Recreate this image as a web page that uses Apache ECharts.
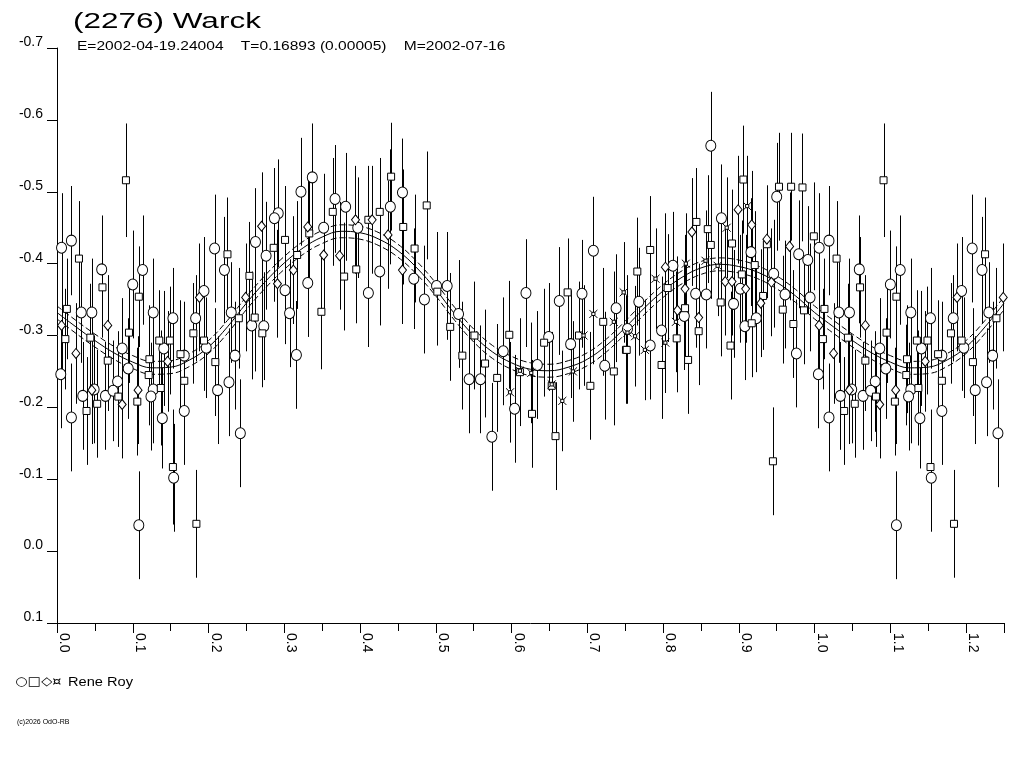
<!DOCTYPE html>
<html>
<head>
<meta charset="utf-8">
<script src="https://cdn.jsdelivr.net/npm/echarts@6/dist/echarts.min.js"></script>
<style>
html,body{margin:0;padding:0;background:#fff;}
#chart{width:1024px;height:768px;}
</style>
</head>
<body>
<div id="chart"></div>
<script>
// ---- Data (phase, reduced magnitude, error half-length) ----
const circles = [
[0.006,-0.422,0.076],[0.019,-0.432,0.076],[0.059,-0.392,0.075],[0.100,-0.371,0.075],[0.113,-0.391,0.076],
[0.208,-0.421,0.075],[0.221,-0.391,0.074],[0.032,-0.332,0.070],[0.046,-0.332,0.075],[0.127,-0.332,0.075],
[0.153,-0.324,0.070],[0.194,-0.362,0.075],[0.183,-0.324,0.060],[0.197,-0.283,0.070],[0.230,-0.332,0.070],
[0.005,-0.246,0.075],[0.086,-0.282,0.070],[0.094,-0.254,0.070],[0.141,-0.282,0.080],[0.168,-0.272,0.075],
[0.080,-0.236,0.070],[0.235,-0.272,0.075],[0.227,-0.235,0.075],[0.212,-0.224,0.075],[0.127,-0.225,0.075],
[0.034,-0.216,0.075],[0.049,-0.225,0.075],[0.064,-0.216,0.075],[0.074,-0.223,0.070],[0.124,-0.215,0.075],
[0.019,-0.186,0.075],[0.139,-0.185,0.070],[0.168,-0.195,0.075],[0.242,-0.164,0.075],[0.154,-0.102,0.075],
[0.108,-0.036,0.075],
[0.337,-0.520,0.075],[0.322,-0.500,0.075],[0.456,-0.499,0.075],[0.367,-0.490,0.075],[0.381,-0.479,0.075],
[0.440,-0.479,0.080],[0.292,-0.470,0.075],[0.287,-0.463,0.070],[0.352,-0.450,0.075],[0.397,-0.450,0.070],
[0.262,-0.430,0.075],[0.276,-0.411,0.075],[0.426,-0.389,0.075],[0.471,-0.379,0.070],[0.331,-0.373,0.075],
[0.301,-0.363,0.075],[0.411,-0.359,0.075],[0.485,-0.350,0.075],[0.501,-0.369,0.075],[0.307,-0.331,0.075],
[0.257,-0.314,0.075],[0.273,-0.313,0.075],[0.316,-0.273,0.075],
[0.708,-0.418,0.075],[0.515,-0.369,0.075],[0.619,-0.359,0.075],[0.693,-0.358,0.075],[0.663,-0.348,0.075],
[0.738,-0.338,0.075],[0.530,-0.330,0.075],[0.649,-0.298,0.075],[0.678,-0.288,0.075],[0.589,-0.278,0.075],
[0.634,-0.259,0.075],[0.723,-0.258,0.075],[0.544,-0.239,0.075],[0.559,-0.239,0.075],[0.604,-0.198,0.075],
[0.574,-0.159,0.075],
[0.863,-0.564,0.075],[0.950,-0.493,0.075],[0.877,-0.463,0.075],[0.979,-0.413,0.075],[0.991,-0.405,0.075],
[0.916,-0.416,0.075],[0.813,-0.397,0.075],[0.946,-0.386,0.075],[0.902,-0.365,0.075],[0.843,-0.358,0.075],
[0.857,-0.357,0.075],[0.961,-0.357,0.075],[0.768,-0.347,0.075],[0.893,-0.344,0.075],[0.994,-0.353,0.075],
[0.828,-0.327,0.075],[0.923,-0.324,0.075],[0.908,-0.313,0.075],[0.798,-0.307,0.075],[0.753,-0.309,0.075],
[0.783,-0.286,0.075],[0.976,-0.275,0.075]
];
const squares = [
[0.091,-0.516,0.079],[0.029,-0.407,0.080],[0.060,-0.367,0.070],[0.108,-0.354,0.070],[0.225,-0.413,0.079],
[0.013,-0.337,0.070],[0.011,-0.295,0.070],[0.044,-0.297,0.075],[0.095,-0.304,0.070],[0.180,-0.303,0.070],
[0.194,-0.293,0.070],[0.240,-0.324,0.070],[0.254,-0.383,0.075],[0.067,-0.265,0.070],[0.135,-0.293,0.070],
[0.149,-0.293,0.075],[0.122,-0.267,0.075],[0.163,-0.274,0.075],[0.121,-0.245,0.070],[0.137,-0.227,0.080],
[0.168,-0.237,0.075],[0.209,-0.263,0.075],[0.081,-0.215,0.070],[0.106,-0.208,0.075],[0.053,-0.205,0.075],
[0.039,-0.195,0.075],[0.153,-0.117,0.080],[0.184,-0.038,0.075],
[0.441,-0.521,0.075],[0.488,-0.481,0.075],[0.364,-0.472,0.075],[0.426,-0.472,0.075],[0.411,-0.461,0.075],
[0.457,-0.451,0.080],[0.333,-0.442,0.075],[0.301,-0.433,0.075],[0.286,-0.422,0.075],[0.472,-0.421,0.075],
[0.317,-0.412,0.075],[0.395,-0.392,0.075],[0.379,-0.382,0.075],[0.502,-0.361,0.075],[0.349,-0.333,0.080],
[0.261,-0.325,0.075],[0.271,-0.303,0.075],
[0.674,-0.360,0.075],[0.721,-0.319,0.075],[0.519,-0.312,0.075],[0.551,-0.300,0.075],[0.597,-0.301,0.075],
[0.689,-0.300,0.075],[0.643,-0.290,0.075],[0.751,-0.280,0.075],[0.535,-0.272,0.075],[0.565,-0.261,0.075],
[0.611,-0.249,0.075],[0.735,-0.250,0.075],[0.581,-0.241,0.075],[0.653,-0.230,0.075],[0.704,-0.230,0.075],
[0.627,-0.191,0.075],[0.658,-0.160,0.075],
[0.906,-0.517,0.075],[0.953,-0.507,0.075],[0.969,-0.507,0.075],[0.984,-0.506,0.075],[0.844,-0.458,0.075],
[0.859,-0.448,0.075],[0.999,-0.438,0.075],[0.937,-0.427,0.075],[0.891,-0.428,0.075],[0.863,-0.426,0.075],
[0.783,-0.419,0.075],[0.921,-0.398,0.075],[0.766,-0.389,0.075],[0.904,-0.385,0.075],[0.806,-0.366,0.075],
[0.932,-0.355,0.075],[0.876,-0.346,0.075],[0.829,-0.338,0.075],[0.958,-0.336,0.075],[0.986,-0.335,0.075],
[0.917,-0.317,0.075],[0.972,-0.316,0.075],[0.847,-0.306,0.075],[0.818,-0.296,0.075],[0.752,-0.280,0.075],
[0.889,-0.286,0.075],[0.833,-0.266,0.075],[0.798,-0.259,0.075],[0.945,-0.125,0.075]
];
const diamonds = [
[0.006,-0.314,0.070],[0.067,-0.314,0.070],[0.188,-0.353,0.075],[0.249,-0.353,0.075],[0.025,-0.275,0.070],
[0.146,-0.264,0.070],[0.107,-0.224,0.075],[0.046,-0.224,0.075],[0.086,-0.204,0.075],
[0.394,-0.461,0.075],[0.416,-0.461,0.075],[0.270,-0.452,0.075],[0.331,-0.451,0.075],[0.437,-0.440,0.075],
[0.352,-0.412,0.075],[0.373,-0.411,0.075],[0.312,-0.391,0.075],[0.456,-0.391,0.075],[0.291,-0.372,0.075],
[0.899,-0.475,0.075],[0.917,-0.454,0.075],[0.838,-0.444,0.075],[0.937,-0.434,0.075],[0.967,-0.424,0.075],
[0.803,-0.395,0.075],[0.943,-0.374,0.075],[0.829,-0.365,0.075],[0.882,-0.375,0.075],[0.891,-0.375,0.075],
[0.909,-0.365,0.075],[0.929,-0.345,0.075],[0.819,-0.335,0.075],[0.847,-0.325,0.075]
];
const crosses = [
[0.748,-0.360,0.070],[0.708,-0.330,0.070],[0.735,-0.319,0.070],[0.695,-0.300,0.070],[0.753,-0.304,0.070],
[0.626,-0.248,0.070],[0.681,-0.250,0.070],[0.598,-0.221,0.070],[0.667,-0.209,0.070],[0.611,-0.251,0.070],
[0.653,-0.232,0.070],
[0.911,-0.480,0.070],[0.884,-0.450,0.070],[0.856,-0.404,0.070],[0.830,-0.400,0.070],[0.872,-0.397,0.070],
[0.790,-0.379,0.070],[0.817,-0.319,0.070],[0.763,-0.299,0.070],[0.803,-0.290,0.070],[0.776,-0.280,0.070]
];
// Fitted light curve read at phase steps of 0.025 (phase 0 .. 1)
const fitPhase = [0.000,0.025,0.050,0.075,0.100,0.125,0.150,0.175,0.200,0.225,0.250,0.275,0.300,0.325,0.350,0.375,0.400,0.425,0.450,0.475,0.500,0.525,0.550,0.575,0.600,0.625,0.650,0.675,0.700,0.725,0.750,0.775,0.800,0.825,0.850,0.875,0.900,0.925,0.950,0.975,1.000];
const fitMag = [-0.332,-0.312,-0.293,-0.276,-0.263,-0.255,-0.256,-0.266,-0.284,-0.312,-0.345,-0.375,-0.401,-0.422,-0.437,-0.445,-0.443,-0.434,-0.418,-0.394,-0.364,-0.330,-0.300,-0.277,-0.262,-0.253,-0.251,-0.256,-0.267,-0.286,-0.311,-0.338,-0.362,-0.381,-0.394,-0.399,-0.396,-0.388,-0.374,-0.355,-0.332];
const fitBand = 0.009;   // half-width of dashed uncertainty curves
const phaseMax = 1.25;   // phases below 0.25 are repeated after 1.0
const yTicks = ['-0.7','-0.6','-0.5','-0.4','-0.3','-0.2','-0.1','0.0','0.1'];
const xTicks = ['0.0','0.1','0.2','0.3','0.4','0.5','0.6','0.7','0.8','0.9','1.0','1.1','1.2'];
const titleText = '(2276) Warck';
const subtitleText = 'E=2002-04-19.24004    T=0.16893 (0.00005)    M=2002-07-16';
const legendSymbols = '\u25CB\u25A1\u25C7\u00A4';
const legendName = 'Rene Roy';
const copyrightText = '(c)2026 OdO-RB';

// ---- build ----
function wrap(arr){
  const out = arr.slice();
  arr.forEach(p => { if (p[0] + 1 <= phaseMax) out.push([p[0] + 1, p[1], p[2]]); });
  return out;
}
function fitLine(off){
  const pts = fitPhase.map((p,i)=>[p, fitMag[i] + off]);
  for (let i=1;i<fitPhase.length;i++){
    if (fitPhase[i] + 1 <= phaseMax + 1e-9) pts.push([fitPhase[i] + 1, fitMag[i] + off]);
  }
  return pts;
}
const C = wrap(circles), S = wrap(squares), D = wrap(diamonds), X = wrap(crosses);
const allPts = C.concat(S, D, X);

const FONT = '"Liberation Sans", Arial, sans-serif';
const chart = echarts.init(document.getElementById('chart'), null, {renderer:'canvas'});

function errBar(params, api){
  const x = api.value(0), y = api.value(1), e = api.value(2);
  const a = api.coord([x, y - e]), b = api.coord([x, y + e]);
  const px = Math.round(a[0]) + 0.5;
  return {type:'line', shape:{x1:px, y1:a[1], x2:px, y2:b[1]}, style:{stroke:'#000', lineWidth:1}};
}
const markerStyle = {color:'#fff', borderColor:'#000', borderWidth:1, opacity:1};
const crossPath = 'path://M3,3L7,3L7,7L3,7Z M0,0L3,3 M10,0L7,3 M0,10L3,7 M10,10L7,7';

const option = {
  animation:false,
  backgroundColor:'#fff',
  grid:{left:57, right:20, top:48, bottom:145, containLabel:false},
  xAxis:{
    type:'value', min:0, max:phaseMax, interval:0.1,
    axisLine:{show:true, onZero:false, lineStyle:{color:'#000', width:1}},
    axisTick:{show:true, length:10, inside:false, lineStyle:{color:'#000'}},
    minorTick:{show:true, splitNumber:2, length:8, lineStyle:{color:'#000'}},
    splitLine:{show:false},
    axisLabel:{
      rotate:-90, margin:10, color:'#000', fontSize:14, lineHeight:14, fontFamily:FONT, showMaxLabel:false,
      align:'left', verticalAlign:'bottom',
      formatter:function(v){ const i = Math.round(v*10); return (Math.abs(v*10-i)<1e-6 && xTicks[i]!==undefined) ? xTicks[i] : ''; }
    }
  },
  yAxis:{
    type:'value', min:-0.7, max:0.1, interval:0.1, inverse:true,
    axisLine:{show:true, onZero:false, lineStyle:{color:'#000', width:1}},
    axisTick:{show:true, length:10, lineStyle:{color:'#000'}},
    splitLine:{show:false},
    axisLabel:{
      margin:14, color:'#000', fontSize:14, lineHeight:11, fontFamily:FONT, verticalAlign:'bottom',
      formatter:function(v){ const i = Math.round((v+0.7)*10); return yTicks[i] !== undefined ? yTicks[i] : ''; }
    }
  },
  graphic:[
    {type:'text', x:73, y:10, scaleX:1.4, style:{text:titleText, font:'22.5px '+FONT, fill:'#000', verticalAlign:'top'}},
    {type:'text', x:77, y:40, scaleX:1.244, style:{text:subtitleText, font:'12.5px '+FONT, fill:'#000', verticalAlign:'top'}},
    {type:'text', x:15, y:676, scaleX:1.2, style:{text:legendSymbols, font:'12px "DejaVu Sans", sans-serif', fill:'#000', verticalAlign:'top'}},
    {type:'text', x:68, y:676, scaleX:1.17, style:{text:legendName, font:'12.5px '+FONT, fill:'#000', verticalAlign:'top'}},
    {type:'text', x:17, y:719, style:{text:copyrightText, font:'7px '+FONT, fill:'#000', verticalAlign:'top'}}
  ],
  series:[
    {type:'custom', name:'errors', renderItem:errBar, data:allPts, encode:{x:0,y:1}, clip:true, z:1, silent:true},
    {type:'line', name:'fit', data:fitLine(0), smooth:0.4, showSymbol:false, symbol:'none', lineStyle:{color:'#000', width:1}, z:2, silent:true},
    {type:'line', name:'fitUpper', data:fitLine(-fitBand), smooth:0.4, showSymbol:false, symbol:'none', lineStyle:{color:'#000', width:1, type:[6,3]}, z:2, silent:true},
    {type:'line', name:'fitLower', data:fitLine(fitBand), smooth:0.4, showSymbol:false, symbol:'none', lineStyle:{color:'#000', width:1, type:[6,3]}, z:2, silent:true},
    {type:'scatter', name:'circle', data:C.map(p=>[p[0],p[1]]), symbol:'circle', symbolSize:[10,11], itemStyle:markerStyle, z:3, silent:true},
    {type:'scatter', name:'square', data:S.map(p=>[p[0],p[1]]), symbol:'rect', symbolSize:[7,7], itemStyle:markerStyle, z:3, silent:true},
    {type:'scatter', name:'diamond', data:D.map(p=>[p[0],p[1]]), symbol:'diamond', symbolSize:[8,10], itemStyle:markerStyle, z:3, silent:true},
    {type:'scatter', name:'cross', data:X.map(p=>[p[0],p[1]]), symbol:crossPath, symbolSize:[8,8], itemStyle:markerStyle, z:3, silent:true}
  ]
};
chart.setOption(option);
</script>
</body>
</html>
